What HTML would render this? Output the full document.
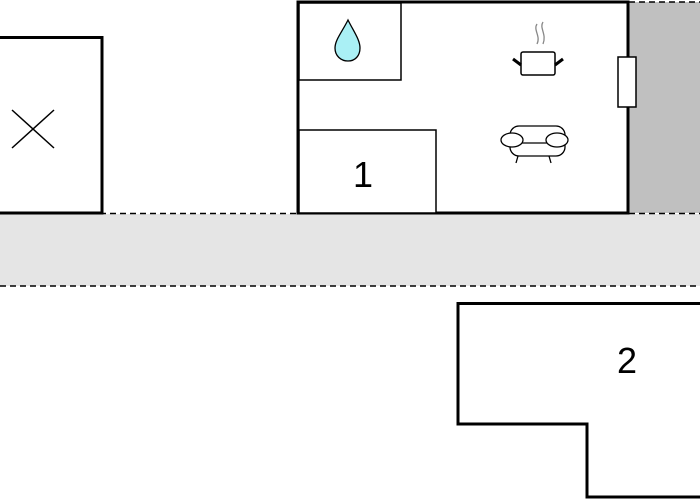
<!DOCTYPE html>
<html><head><style>body{margin:0;background:#fff}svg{display:block}</style></head>
<body>
<svg width="700" height="500" viewBox="0 0 700 500" xmlns="http://www.w3.org/2000/svg">
<rect x="0" y="214" width="700" height="72" fill="#e5e5e5"/>
<rect x="629" y="2" width="71" height="211" fill="#c0c0c0"/>
<g stroke="#000" stroke-width="1.6" stroke-dasharray="6,4" fill="none">
<line x1="0" y1="286" x2="700" y2="286"/>
<line x1="0" y1="213.5" x2="297" y2="213.5"/>
<line x1="629" y1="213.5" x2="700" y2="213.5"/>
<line x1="629" y1="2" x2="700" y2="2"/>
</g>
<rect x="-5" y="37.5" width="107" height="175.5" fill="#fff" stroke="#000" stroke-width="3"/>
<g stroke="#000" stroke-width="1.5"><line x1="12" y1="110" x2="54" y2="148"/><line x1="54" y1="110" x2="12" y2="148"/></g>
<rect x="298" y="2" width="330" height="211" fill="#fff" stroke="#000" stroke-width="3"/>
<rect x="299" y="3" width="102" height="77" fill="#fff" stroke="#000" stroke-width="1.5"/>
<rect x="299" y="130" width="137" height="83" fill="#fff" stroke="#000" stroke-width="1.5"/>
<rect x="618" y="57" width="18" height="50" fill="#fff" stroke="#000" stroke-width="1.5"/>
<path d="M348,20 C342,32 335,40 335,48 C335,56 341,61 348,61 C355,61 360,56 360,48 C360,40 354,32 348,20 Z" fill="#aaf0f5" stroke="#000" stroke-width="1.3"/>
<g fill="none" stroke="#888" stroke-width="1.3"><path d="M537,24 C533,30 541,36 537,44"/><path d="M543,22 C539,28 547,34 543,44"/></g>
<rect x="521" y="52" width="34" height="23" rx="2" fill="#fff" stroke="#000" stroke-width="1.5"/>
<g stroke="#000" stroke-width="3"><line x1="513" y1="59" x2="521" y2="65"/><line x1="563" y1="59" x2="555" y2="65"/></g>
<g fill="#fff" stroke="#000" stroke-width="1.3">
<rect x="510" y="126" width="55" height="30" rx="9"/>
<line x1="515" y1="143" x2="560" y2="143"/>
<ellipse cx="512" cy="140" rx="11" ry="7"/>
<ellipse cx="557" cy="140" rx="11" ry="7"/>
<line x1="518" y1="156" x2="516" y2="163"/><line x1="549" y1="156" x2="551" y2="163"/>
</g>
<polygon points="458,303.5 705,303.5 705,497 587,497 587,424 458,424" fill="#fff" stroke="#000" stroke-width="3"/>
<g font-family="Liberation Sans, sans-serif" font-size="36" text-anchor="middle" fill="#000">
<text x="363" y="187">1</text>
<text x="627" y="373">2</text>
</g>
</svg>
</body></html>
